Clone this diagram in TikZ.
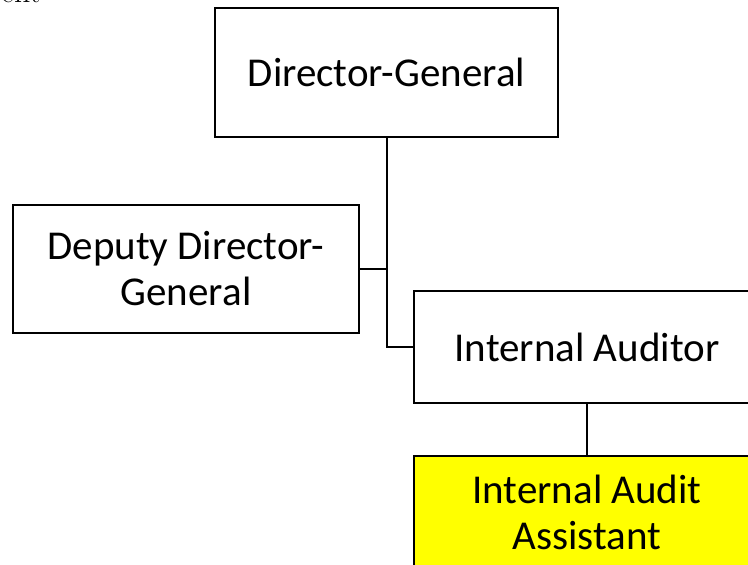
\documentclass[tikz,border=0pt]{standalone}
\usepackage{fontspec}
\setmainfont{Carlito}
\newfontfamily\serifpart{Latin Modern Roman}
\begin{document}
\begin{tikzpicture}[x=1pt,y=-1pt,
  box/.style={draw=black, line width=2pt, fill=white, align=center, inner sep=0pt,
    font=\fontsize{41}{46}\selectfont},
  conn/.style={draw=black, line width=2pt}]
\useasboundingbox (0,0) rectangle (748,565);
\clip (0,0) rectangle (748,565);
\node[anchor=base west, inner sep=0pt, font=\serifpart\fontsize{32}{36}\selectfont] (frag) at (1,2.5) {ent};
\node[box, minimum width=343pt, minimum height=129pt] (dg) at (386.5,72.5) {Director-General};
\node[box, minimum width=346pt, minimum height=128pt] (ddg) at (186,269) {Deputy Director-\\General};
\node[box, minimum width=346pt, minimum height=112pt] (ia) at (587,347) {Internal Auditor};
\node[box, fill={rgb,255:red,255;green,255;blue,0}, minimum width=346pt, minimum height=112pt] (iaa) at (587,512) {Internal Audit\\Assistant};
\coordinate (j1) at (dg.south |- ddg.east);
\draw[conn] (dg.south) |- (ia.west);
\draw[conn] (ddg.east) -- (j1);
\draw[conn] (ia.south) -- (iaa.north);
\end{tikzpicture}
\end{document}
